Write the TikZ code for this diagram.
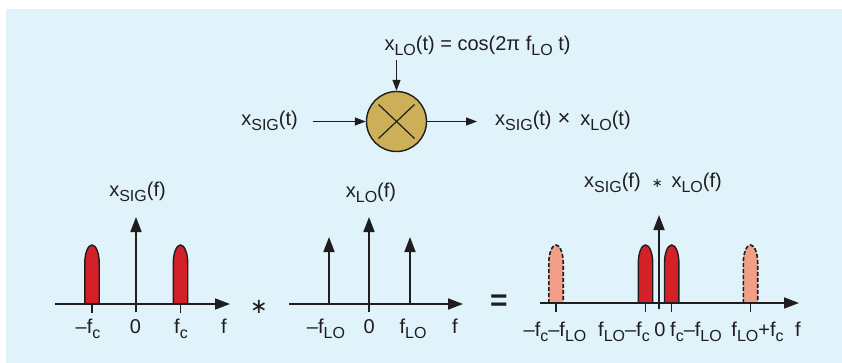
\documentclass[tikz,border=0pt]{standalone}
\usepackage{fontspec}
\setmainfont{Liberation Sans}
\newfontfamily\djv{DejaVu Sans}
\usetikzlibrary{arrows.meta}
\definecolor{bgblue}{RGB}{224,242,250}
\definecolor{mixgold}{RGB}{204,175,86}
\definecolor{sigred}{RGB}{212,33,40}
\definecolor{imgpink}{RGB}{243,158,134}
\definecolor{ink}{RGB}{30,30,30}
\newcommand{\sbs}[1]{\raisebox{-5pt}{\fontsize{16}{16}\selectfont #1}}
\newcommand{\pulsepath}[1]{(#1-7.2,\ybase) -- (#1-7.2,263) arc[start angle=180,end angle=0,x radius=7.2pt,y radius=18pt] -- (#1+7.2,\ybase)}
\begin{document}
\begin{tikzpicture}[x=1pt,y=-1pt,
  txt/.style={font=\fontsize{20}{22}\selectfont, inner sep=0pt, anchor=base, text=ink},
  axarr/.style={draw=ink, line width=1.7pt, -{Triangle[length=15pt,width=11pt]}},
  sarr/.style={draw=ink, line width=1.3pt, -{Triangle[length=11pt,width=8pt]}},
  tickln/.style={draw=ink, line width=1.3pt},
  sigp/.style={fill=sigred, draw=ink, line width=1.4pt},
  imgp/.style={fill=imgpink, draw=ink, line width=1.6pt, dash pattern=on 4pt off 2pt}]
\useasboundingbox (0,0) rectangle (842,363);
\fill[white] (0,0) rectangle (842,363);
\fill[bgblue] (6,9) rectangle (842,363);

% ---------- mixer ----------
\node[circle, draw=ink, fill=mixgold, line width=1.4pt, minimum size=60pt, inner sep=0pt] (mix) at (396.5,121.5) {};
\draw[ink, line width=1.2pt] (mix.center) ++(-18,-17) -- ++(36,34);
\draw[ink, line width=1.2pt] (mix.center) ++(18,-17) -- ++(-36,34);
\node[txt, anchor=base east] (inp) at (298,126) {x\sbs{SIG}(t)};
\node[txt, anchor=base west] (outp) at (495,126) {x\sbs{SIG}(t)\hspace{6pt}{\fontsize{22}{22}\selectfont ×}\hspace{10pt}x\sbs{LO}(t)};
\node[txt] (lo) at (477.5,51) {x\sbs{LO}(t) = cos(2π f\sbs{LO} t)};
\coordinate (inpend) at (312.5,121.5);
\coordinate (loend) at (mix.north |- 0,60);
\coordinate (outend) at (477,121.5);
\draw[sarr] (inpend) -- (mix.west);
\draw[sarr] (mix.east) -- (outend);
\draw[sarr] (loend) -- (mix.north);

% ---------- plot 1: X_SIG(f) ----------
\def\ybase{304}
\coordinate (a1l) at (55,304);
\coordinate (a1r) at (230,304);
\coordinate (v1b) at (136,312);
\coordinate (v1t) at (136,217);
\draw[sigp] \pulsepath{92};
\draw[sigp] \pulsepath{180.5};
\draw[tickln] (92,304) -- (92,313);
\draw[tickln] (180.5,304) -- (180.5,313);
\draw[axarr] (a1l) -- (a1r);
\draw[axarr] (v1b) -- (v1t);
\node[txt] (l1a) at (88,333) {–f\sbs{c}};
\node[txt] (l1b) at (135.5,333) {0};
\node[txt] (l1c) at (181,333) {f\sbs{c}};
\node[txt] (l1d) at (224,333) {f};
\node[txt] (t1) at (137.5,197) {x\sbs{SIG}(f)};
\node[font=\djv\fontsize{21}{21}\selectfont, text=ink, inner sep=0pt] (conv) at (259,307) {∗};

% ---------- plot 2: X_LO(f) ----------
\coordinate (a2l) at (289,304);
\coordinate (a2r) at (463,304);
\coordinate (v2b) at (369,312);
\coordinate (v2t) at (369,217);
\coordinate (i2lb) at (329,304);
\coordinate (i2lt) at (329,237);
\coordinate (i2rb) at (410,304);
\coordinate (i2rt) at (410,237);
\draw[axarr] (a2l) -- (a2r);
\draw[axarr] (v2b) -- (v2t);
\draw[axarr] (i2lb) -- (i2lt);
\draw[axarr] (i2rb) -- (i2rt);
\node[txt] (l2a) at (326,333) {–f\sbs{LO}};
\node[txt] (l2b) at (369.3,333) {0};
\node[txt] (l2c) at (413,333) {f\sbs{LO}};
\node[txt] (l2d) at (455,333) {f};
\node[txt] (t2) at (371,198) {x\sbs{LO}(f)};

\node[font=\fontsize{30}{30}\selectfont\bfseries, text=ink, inner sep=0pt] (eq) at (499,303) {=};

% ---------- plot 3: result ----------
\def\ybase{303}
\coordinate (a3l) at (540,303);
\coordinate (a3r) at (799,303);
\coordinate (v3b) at (659,309);
\coordinate (v3t) at (659,215);
\fill[imgpink] \pulsepath{556};
\fill[imgpink] \pulsepath{750.5};
\draw[imgp] \pulsepath{556};
\draw[imgp] \pulsepath{750.5};
\draw[sigp] \pulsepath{645.5};
\draw[sigp] \pulsepath{671.7};
\foreach \tx in {556,645.5,671.7,750.5} \draw[tickln] (\tx,303) -- (\tx,312);
\draw[axarr] (a3l) -- (a3r);
\draw[axarr] (v3b) -- (v3t);
\node[txt] (l3a) at (555,336) {–f\sbs{c}–f\sbs{LO}};
\node[txt] (l3b) at (624,336) {f\sbs{LO}–f\sbs{c}};
\node[txt] (l3c) at (660,336) {0};
\node[txt] (l3d) at (696,336) {f\sbs{c}–f\sbs{LO}};
\node[txt] (l3e) at (757.5,336) {f\sbs{LO}+f\sbs{c}};
\node[txt] (l3f) at (798,336) {f};
\node[txt] (t3) at (653,188) {x\sbs{SIG}(f) \ {\djv\fontsize{13}{13}\selectfont ∗}\ \,x\sbs{LO}(f)};
\end{tikzpicture}
\end{document}
